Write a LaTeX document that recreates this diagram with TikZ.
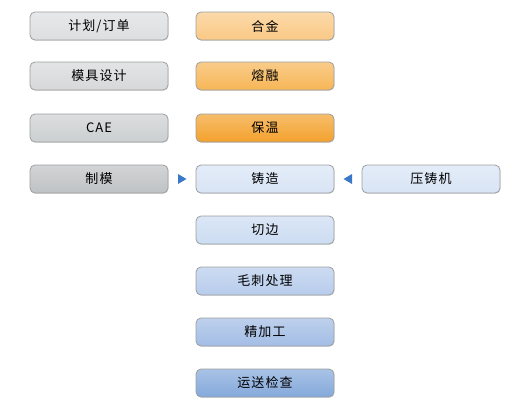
\documentclass[tikz,border=0pt]{standalone}
\usepackage{fontspec}
\setmainfont{Noto Sans CJK SC}
\usetikzlibrary{shadows,calc}
\definecolor{bordc}{HTML}{9C9EA0}
\definecolor{tri}{HTML}{3C78C8}
\definecolor{cA}{HTML}{DCDEE0}
\definecolor{cB}{HTML}{D6D8DA}
\definecolor{cC}{HTML}{CCCFD1}
\definecolor{cD}{HTML}{BFC2C4}
\definecolor{oA}{HTML}{FAC985}
\definecolor{oB}{HTML}{F7B657}
\definecolor{oC}{HTML}{F3A12C}
\definecolor{bA}{HTML}{D8E4F5}
\definecolor{bB}{HTML}{CCDCF2}
\definecolor{bC}{HTML}{B7CCEC}
\definecolor{bD}{HTML}{A2BDE5}
\definecolor{bE}{HTML}{84A9DB}
\tikzset{
  stepbox/.style={rounded corners=5pt, draw=bordc, line width=0.8pt,
    minimum width=138pt, minimum height=28pt, inner sep=0pt,
    font=\fontsize{13pt}{15pt}\selectfont\addfontfeatures{LetterSpace=8},
    drop shadow={shadow xshift=0.6pt, shadow yshift=-0.8pt, opacity=0.25}},
  fillc/.style={top color=#1!70!white, bottom color=#1},
  tip/.style={fill=tri, draw=none},
}
\begin{document}
\begin{tikzpicture}[x=1pt,y=-1pt]
\useasboundingbox (0,0) rectangle (520,410);
% left column
\node[stepbox, fillc=cA] (plan) at (99,26) {计划/订单};
\node[stepbox, fillc=cB] (mold) at (99,76) {模具设计};
\node[stepbox, fillc=cC] (cae)  at (99,128) {CAE};
\node[stepbox, fillc=cD] (make) at (99,179) {制模};
% right column
\node[stepbox, fillc=oA] (alloy) at (265,26) {合金};
\node[stepbox, fillc=oB] (melt)  at (265,76) {熔融};
\node[stepbox, fillc=oC] (hold)  at (265,128) {保温};
\node[stepbox, fillc=bA] (cast)  at (265,179) {铸造};
\node[stepbox, fillc=bB] (trim)  at (265,230) {切边};
\node[stepbox, fillc=bC] (burr)  at (265,281) {毛刺处理};
\node[stepbox, fillc=bD] (fin)   at (265,332) {精加工};
\node[stepbox, fillc=bE] (ship)  at (265,383) {运送检查};
% machine
\node[stepbox, fillc=bA] (press) at (431,179) {压铸机};
% pointers
\coordinate (t1) at ($(make.east)!0.5!(cast.west)$);
\fill[tip] ([xshift=-4pt,yshift=-5pt]t1) -- ([xshift=4.5pt]t1) -- ([xshift=-4pt,yshift=5pt]t1) -- cycle;
\coordinate (t2) at ($(cast.east)!0.5!(press.west)$);
\fill[tip] ([xshift=4pt,yshift=-5pt]t2) -- ([xshift=-4.5pt]t2) -- ([xshift=4pt,yshift=5pt]t2) -- cycle;
\end{tikzpicture}
\end{document}
